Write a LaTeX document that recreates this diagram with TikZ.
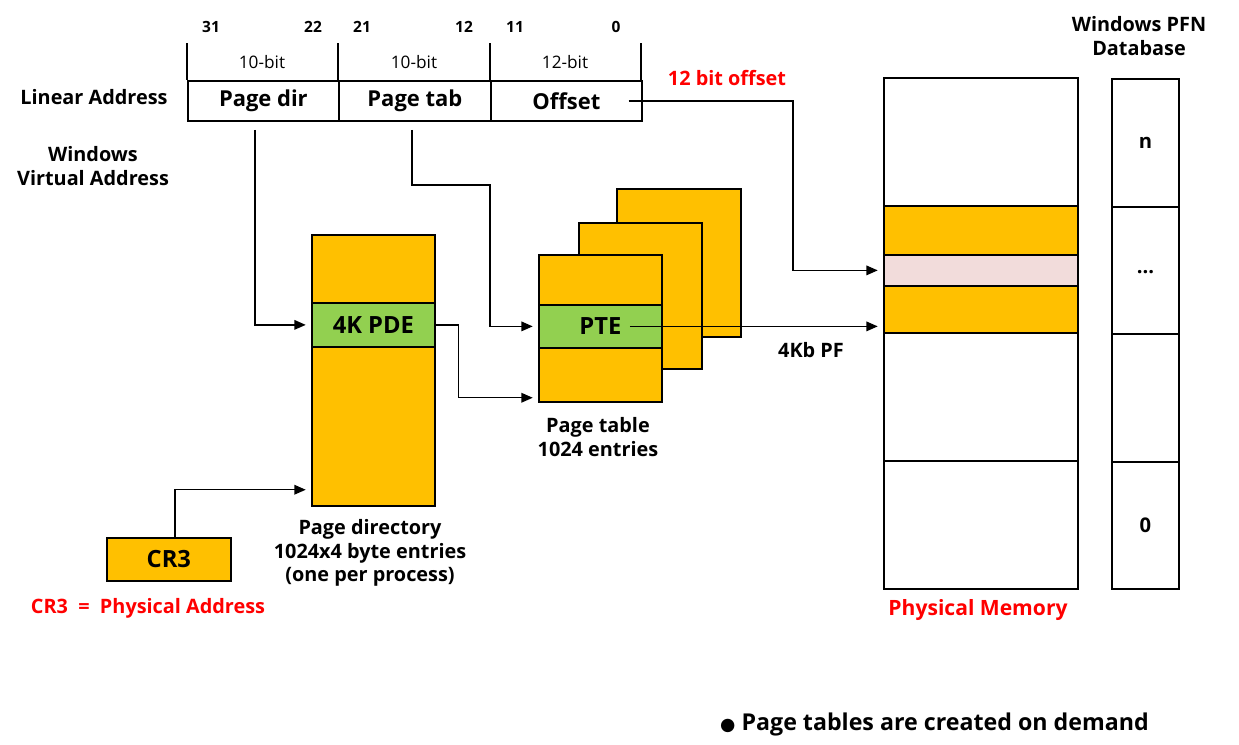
\documentclass[tikz,border=0pt]{standalone}
\usepackage{fontspec}
\setmainfont{Open Sans}
\newfontfamily\symfont{DejaVu Sans}
\usetikzlibrary{positioning,arrows.meta,calc}
\definecolor{pgorange}{HTML}{FFC000}
\definecolor{pggreen}{HTML}{92D050}
\definecolor{pgpink}{HTML}{F2DCDB}
\definecolor{pgred}{HTML}{FF0000}

\begin{document}
\begin{tikzpicture}[x=0.02cm,y=-0.02cm,
    cell/.style={draw,line width=1pt,anchor=north west,inner sep=0pt,font=\fontsize{12.5}{14}\selectfont\bfseries},
    fillcell/.style={cell,fill=pgorange},
    entry/.style={cell,fill=pggreen,font=\fontsize{13.5}{15}\selectfont\bfseries},
    lbl/.style={font=\fontsize{11.3}{13.2}\selectfont\bfseries,align=center},
    bitlbl/.style={font=\fontsize{8.8}{10}\selectfont\bfseries},
    sizelbl/.style={font=\fontsize{9.8}{11}\selectfont},
    conn/.style={line width=0.8pt,-{Triangle[length=6.5pt,width=5.5pt]},shorten >=3pt}]
  \useasboundingbox (0,0) rectangle (1239,744);
  % ---- linear address ----
  \node[lbl] (lin) at (94,97) {Linear Address};
  \node[lbl] (win) at (93,166) {Windows\\Virtual Address};
  \node[cell,minimum width=3.02cm,minimum height=0.8cm] (pdir) at (187,80) {Page dir};
  \node[cell,minimum width=3.04cm,minimum height=0.8cm] (ptab) at (338,80) {Page tab};
  \node[cell,minimum width=3.02cm,minimum height=0.8cm] (offs) at (490,80) {Offset};
  \foreach \x in {187,338,490,641} \draw[line width=1pt] (\x,43) -- (\x,80);
  \foreach \x/\t in {262/10-bit,414/10-bit,565/12-bit}
    \node[sizelbl] (sz\x) at (\x,62) {\t};
  \foreach \x/\t in {211/31,313/22,362/21,464/12,515/11,616/0}
    \node[bitlbl] (bit\x) at (\x,27) {\t};
  \node[lbl,text=pgred] (offlbl) at (727,78) {12 bit offset};
  % ---- page directory ----
  \node[fillcell,minimum width=2.46cm,minimum height=1.36cm] (pdtop) at (311,234) {};
  \node[entry,minimum width=2.46cm,minimum height=0.88cm] (pde) at (311,302) {4K PDE};
  \node[fillcell,minimum width=2.46cm,minimum height=3.18cm] (pdbot) at (311,346) {};
  \node[lbl] (pdlbl) at (370,553) {Page directory\\1024x4 byte entries\\(one per process)};
  % ---- page tables ----
  \node[fillcell,minimum width=2.48cm,minimum height=2.96cm] (ptback) at (616,188) {};
  \node[fillcell,minimum width=2.46cm,minimum height=2.92cm] (ptmid) at (578,222) {};
  \node[fillcell,minimum width=2.46cm,minimum height=1.0cm] (pttop) at (538,254) {};
  \node[entry,minimum width=2.46cm,minimum height=0.86cm] (pte) at (538,304) {PTE};
  \node[fillcell,minimum width=2.46cm,minimum height=1.08cm] (ptbot) at (538,347) {};
  \node[lbl] (ptlbl) at (598,437) {Page table\\1024 entries};
  \node[lbl] (pflbl) at (811,350) {4Kb PF};
  % ---- physical memory ----
  \node[cell,minimum width=3.88cm,minimum height=2.56cm] (pm1) at (883,77) {};
  \node[fillcell,minimum width=3.88cm,minimum height=0.98cm] (pm2) at (883,205) {};
  \node[cell,fill=pgpink,minimum width=3.88cm,minimum height=0.62cm] (pm3) at (883,254) {};
  \node[fillcell,minimum width=3.88cm,minimum height=0.94cm] (pm4) at (883,285) {};
  \node[cell,minimum width=3.88cm,minimum height=2.56cm] (pm5) at (883,332) {};
  \node[cell,minimum width=3.88cm,minimum height=2.56cm] (pm6) at (883,460) {};
  \node[lbl,text=pgred,font=\fontsize{12}{14}\selectfont\bfseries] (pmlbl) at (978,610) {Physical Memory};
  % ---- PFN database ----
  \node[cell,font=\fontsize{11.5}{13}\selectfont\bfseries,minimum width=1.34cm,minimum height=2.56cm] (pfn1) at (1111,78) {n};
  \node[cell,font=\fontsize{11.5}{13}\selectfont\bfseries,minimum width=1.34cm,minimum height=2.54cm] (pfn2) at (1111,206) {\raisebox{-0.3em}{...}};
  \node[cell,minimum width=1.34cm,minimum height=2.56cm] (pfn3) at (1111,333) {};
  \node[cell,font=\fontsize{11.5}{13}\selectfont\bfseries,minimum width=1.34cm,minimum height=2.54cm] (pfn4) at (1111,461) {0};
  \node[lbl] (pfnlbl) at (1139,36) {Windows PFN\\Database};
  % ---- CR3 ----
  \node[fillcell,minimum width=2.48cm,minimum height=0.86cm,font=\fontsize{13.5}{15}\selectfont\bfseries] (cr3) at (106,537) {CR3};
  \node[lbl,text=pgred] (cr3lbl) at (148,608) {CR3\ \ =\ \ Physical Address};
  % ---- connectors ----
  \draw[conn] ([xshift=-0.28cm]offs.east) -| ([xshift=-1.8cm]pm3.west) -- (pm3.west);
  \draw[conn] ([xshift=-0.17cm,yshift=-0.16cm]pdir.south) |- (pde.west);
  \draw[conn] ([xshift=-0.06cm,yshift=-0.16cm]ptab.south) |- ([xshift=-0.96cm,yshift=2.83cm]pte.west) |- (pte.west);
  \draw[conn] (pde.east) -- ++(0.46cm,0) |- ([yshift=0.1cm]ptbot.south west);
  \draw[conn] ([xshift=-0.66cm]pte.east) -- (pte.east -| pm4.west);
  \draw[conn] ([xshift=0.12cm]cr3.north) |- ([yshift=0.34cm]pdbot.south west);
  % ---- note ----
  \node[font=\fontsize{13.2}{15}\selectfont\bfseries,anchor=west] (note) at (714,724) {{\symfont\fontsize{10}{12}\selectfont ●}\ Page tables are created on demand};
\end{tikzpicture}
\end{document}
